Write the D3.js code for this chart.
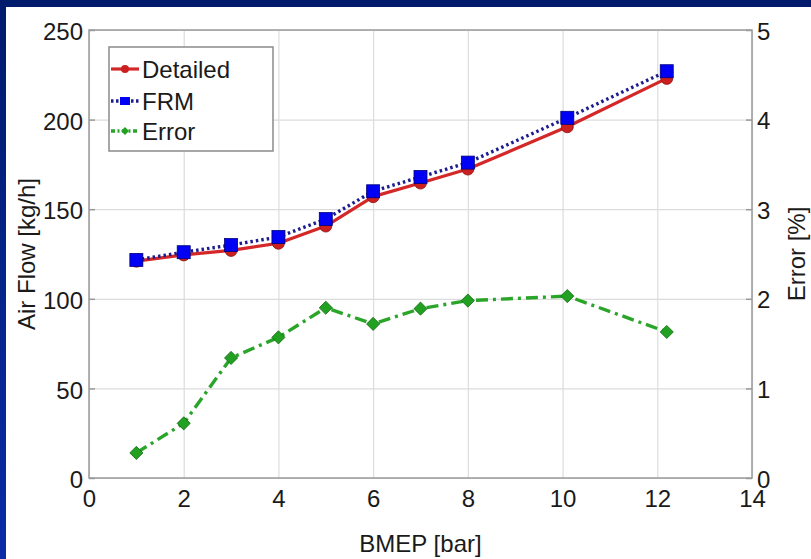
<!DOCTYPE html>
<html>
<head>
<meta charset="utf-8">
<script src="https://cdn.jsdelivr.net/npm/d3@7/dist/d3.min.js"></script>
<style>
  html, body { margin: 0; padding: 0; }
  svg { display: block; }
  text { font-family: "Liberation Sans", Arial, sans-serif; fill: #1a1a1a; }
</style>
</head>
<body>
<svg id="chart" width="811" height="559"></svg>
<script>
// BMEP operating points [bar]
const bmep = [1, 2, 3, 4, 5, 6, 7, 8, 10.1, 12.2];
// Air flow from the detailed model [kg/h]
const detailed = [121, 124.5, 127, 131, 140.6, 157, 164.6, 172.4, 196, 223];
// Air flow from the fast running model [kg/h]
const frm = [121.7, 126, 130, 134.5, 144.5, 160, 168, 176, 201, 227];
// Relative error between the two [%]
const errorPct = [0.28, 0.61, 1.34, 1.57, 1.9, 1.72, 1.89, 1.98, 2.03, 1.63];

const xTicks = [0, 2, 4, 6, 8, 10, 12, 14];
const yLeftTicks = [0, 50, 100, 150, 200, 250];
const yRightTicks = [0, 1, 2, 3, 4, 5];

const legendItems = ["Detailed", "FRM", "Error"];

const W = 811, H = 559;
const plot = { left: 89, right: 752, top: 30, bottom: 478 };

const svg = d3.select("#chart");

// Background: navy frame with white panel
const defs = svg.append("defs");
const grad = defs.append("linearGradient").attr("id", "frame")
  .attr("x1", 0).attr("y1", 0).attr("x2", 0).attr("y2", 1);
grad.append("stop").attr("offset", "0%").attr("stop-color", "#001a6c");
grad.append("stop").attr("offset", "100%").attr("stop-color", "#0a2ca6");
svg.append("rect").attr("width", W).attr("height", H).attr("fill", "url(#frame)");
svg.append("rect").attr("x", 6).attr("y", 7).attr("width", W - 6).attr("height", H - 7).attr("fill", "#ffffff");

const x = d3.scaleLinear().domain([0, 14]).range([plot.left, plot.right]);
const yL = d3.scaleLinear().domain([0, 250]).range([plot.bottom, plot.top]);
const yR = d3.scaleLinear().domain([0, 5]).range([plot.bottom, plot.top]);

// Grid
const grid = svg.append("g").attr("class", "grid");
grid.append("g").attr("transform", `translate(0,${plot.bottom})`)
  .call(d3.axisBottom(x).tickValues(xTicks).tickSize(-(plot.bottom - plot.top)).tickFormat(""))
  .call(g => g.select(".domain").remove())
  .call(g => g.selectAll("line").attr("stroke", "#dcdcdc").attr("stroke-width", 1.2));
grid.append("g").attr("transform", `translate(${plot.left},0)`)
  .call(d3.axisLeft(yL).tickValues(yLeftTicks).tickSize(-(plot.right - plot.left)).tickFormat(""))
  .call(g => g.select(".domain").remove())
  .call(g => g.selectAll("line").attr("stroke", "#dcdcdc").attr("stroke-width", 1.2));

// Axes box
svg.append("rect").attr("x", plot.left).attr("y", plot.top)
  .attr("width", plot.right - plot.left).attr("height", plot.bottom - plot.top)
  .attr("fill", "none").attr("stroke", "#9a9a9a").attr("stroke-width", 1.5);

const axisFont = g => g.selectAll("text")
  .style("font-family", "'Liberation Sans', Arial, sans-serif")
  .style("font-size", "24px").attr("fill", "#1a1a1a");

// Bottom axis labels
svg.append("g").attr("transform", `translate(0,${plot.bottom})`)
  .call(d3.axisBottom(x).tickValues(xTicks).tickSize(0).tickPadding(12).tickFormat(d3.format("d")))
  .call(g => g.select(".domain").remove())
  .call(axisFont);

// Left axis with inward ticks
svg.append("g").attr("transform", `translate(${plot.left},0)`)
  .call(d3.axisLeft(yL).tickValues(yLeftTicks).tickSizeInner(-6).tickSizeOuter(0).tickPadding(6).tickFormat(d3.format("d")))
  .call(g => g.select(".domain").remove())
  .call(g => g.selectAll("line").attr("stroke", "#9a9a9a").attr("stroke-width", 1.5))
  .call(g => g.selectAll("text").attr("x", -6).attr("dy", "0.4em"))
  .call(axisFont);

// Right axis with inward ticks
svg.append("g").attr("transform", `translate(${plot.right},0)`)
  .call(d3.axisRight(yR).tickValues(yRightTicks).tickSizeInner(-6).tickSizeOuter(0).tickPadding(6).tickFormat(d3.format("d")))
  .call(g => g.select(".domain").remove())
  .call(g => g.selectAll("line").attr("stroke", "#9a9a9a").attr("stroke-width", 1.5))
  .call(g => g.selectAll("text").attr("x", 5).attr("dy", "0.38em"))
  .call(axisFont);

// Axis titles
svg.append("text").attr("x", (plot.left + plot.right) / 2).attr("y", 552)
  .attr("text-anchor", "middle").style("font-size", "24px").text("BMEP [bar]");
svg.append("text").attr("transform", `translate(35,${(plot.top + plot.bottom) / 2}) rotate(-90)`)
  .attr("text-anchor", "middle").style("font-size", "24px").text("Air Flow [kg/h]");
svg.append("text").attr("transform", `translate(805,${(plot.top + plot.bottom) / 2}) rotate(-90)`)
  .attr("text-anchor", "middle").style("font-size", "24px").text("Error [%]");

// Series styling
const styles = {
  Detailed: { line: "#d42828", dash: null, width: 3.2, fill: "#cc2020", stroke: "#8a1010", shape: "circle" },
  FRM: { line: "#1c1c8e", dash: "2.5,3", width: 3.4, fill: "#0000f5", stroke: "#00007a", shape: "square" },
  Error: { line: "#2aa52a", dash: "12,5,3,5", width: 3.4, fill: "#22a022", stroke: "#116a11", shape: "diamond" }
};

function drawSeries(vals, yScale, st) {
  const pts = bmep.map((b, i) => [x(b), yScale(vals[i])]);
  const g = svg.append("g");
  g.append("path").attr("d", d3.line()(pts))
    .attr("fill", "none").attr("stroke", st.line).attr("stroke-width", st.width)
    .attr("stroke-dasharray", st.dash).attr("stroke-linejoin", "round");
  g.selectAll(".m").data(pts).join(enter => drawMarker(enter, st));
}

function drawMarker(sel, st) {
  if (st.shape === "circle") {
    return sel.append("circle").attr("cx", d => d[0]).attr("cy", d => d[1]).attr("r", 6)
      .attr("fill", st.fill).attr("stroke", st.stroke).attr("stroke-width", 0.8);
  }
  if (st.shape === "square") {
    return sel.append("rect").attr("x", d => d[0] - 6.5).attr("y", d => d[1] - 6.5)
      .attr("width", 13).attr("height", 13)
      .attr("fill", st.fill).attr("stroke", st.stroke).attr("stroke-width", 0.8);
  }
  return sel.append("path").attr("d", d3.symbol().type(d3.symbolDiamond2).size(110)())
    .attr("transform", d => `translate(${d[0]},${d[1]})`)
    .attr("fill", st.fill).attr("stroke", st.stroke).attr("stroke-width", 0.8);
}

drawSeries(detailed, yL, styles.Detailed);
drawSeries(frm, yL, styles.FRM);
drawSeries(errorPct, yR, styles.Error);

// Legend
const lg = svg.append("g");
lg.append("rect").attr("x", 109).attr("y", 47).attr("width", 164).attr("height", 104)
  .attr("fill", "#ffffff").attr("stroke", "#8a8a8a").attr("stroke-width", 1.5);
const rowY = [69, 101, 131];
legendItems.forEach((name, i) => {
  const st = styles[name];
  const y = rowY[i];
  lg.append("line").attr("x1", 111).attr("x2", 139).attr("y1", y).attr("y2", y)
    .attr("stroke", st.line).attr("stroke-width", st.width)
    .attr("stroke-dasharray", st.dash ? (name === "FRM" ? "2.5,2.5" : "4,2.5,2,2.5") : null);
  if (st.shape === "circle") {
    lg.append("circle").attr("cx", 125).attr("cy", y).attr("r", 4).attr("fill", st.fill);
  } else if (st.shape === "square") {
    lg.append("rect").attr("x", 120).attr("y", y - 4).attr("width", 10).attr("height", 8).attr("fill", st.fill);
  } else {
    lg.append("path").attr("d", d3.symbol().type(d3.symbolDiamond2).size(40)())
      .attr("transform", `translate(125,${y})`).attr("fill", st.fill);
  }
  lg.append("text").attr("x", 142).attr("y", y + 8.5).style("font-size", "24px").text(name);
});
</script>
</body>
</html>
